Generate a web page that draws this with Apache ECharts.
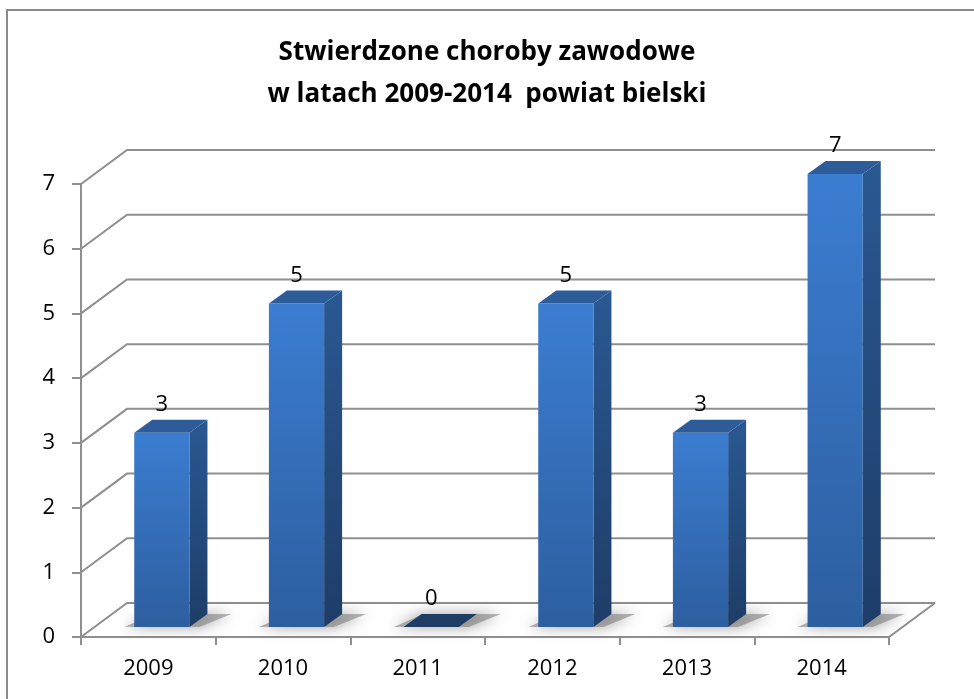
<!DOCTYPE html>
<html>
<head>
<meta charset="utf-8">
<script src="https://cdn.jsdelivr.net/npm/echarts@6/dist/echarts.min.js"></script>
<style>
html,body{margin:0;padding:0;background:#fff;}
#chart{width:974px;height:699px;}
</style>
</head>
<body>
<div id="chart"></div>
<script>
const titleLines = ['Stwierdzone choroby zawodowe', 'w latach 2009-2014  powiat bielski'];
const categories = ['2009', '2010', '2011', '2012', '2013', '2014'];
const values = [3, 5, 0, 5, 3, 7];
const yTicks = [0, 1, 2, 3, 4, 5, 6, 7];

const FONT = '"Open Sans", Lato, sans-serif';
const GRAY = '#8f8f8f';
const WALL_DX = 46, WALL_DY = -34;   // depth of the floor / back wall
const BAR_OX = 13.5, BAR_OY = -10;   // bar front face offset into depth
const BAR_DX = 18, BAR_DY = -13;     // bar depth
const BAR_W = 0.41;                  // front face width as share of category

const chart = echarts.init(document.getElementById('chart'), null, {renderer: 'canvas'});

function renderGrid(params, api) {
  const cs = params.coordSys;
  const v = api.value(1);
  const y = api.coord([0, v])[1];
  const children = [{
    type: 'polyline',
    shape: {points: [[cs.x, y], [cs.x + WALL_DX, y + WALL_DY], [cs.x + cs.width + WALL_DX, y + WALL_DY]]},
    style: {stroke: GRAY, lineWidth: 2, fill: null}
  }];
  if (v === 0) {
    children.push({
      type: 'line',
      shape: {x1: cs.x + cs.width, y1: y, x2: cs.x + cs.width + WALL_DX, y2: y + WALL_DY},
      style: {stroke: GRAY, lineWidth: 2}
    });
  }
  return {type: 'group', children: children};
}

function renderBar(params, api) {
  const i = api.value(0);
  const v = api.value(1);
  const p0 = api.coord([i, 0]);
  const p1 = api.coord([i, v]);
  const cw = api.size([1, 0])[0];
  const fw = cw * BAR_W;
  const cx = p0[0] + BAR_OX;
  const xl = cx - fw / 2, xr = cx + fw / 2;
  const yb = p0[1] + BAR_OY, yt = p1[1] + BAR_OY;
  const children = [];
  // soft floor shadow
  children.push({
    type: 'polygon',
    shape: {points: [[xl - 10, yb], [xr + 10, yb], [xr + BAR_DX + 24, yb + BAR_DY], [xl + BAR_DX + 2, yb + BAR_DY]]},
    style: {fill: 'rgba(120,120,120,0.55)', shadowBlur: 14, shadowColor: 'rgba(0,0,0,0.7)'}
  });
  if (v > 0) {
    children.push({
      type: 'polygon',
      shape: {points: [[xr, yt], [xr + BAR_DX, yt + BAR_DY], [xr + BAR_DX, yb + BAR_DY], [xr, yb]]},
      style: {fill: new echarts.graphic.LinearGradient(0, 0, 0, 1, [
        {offset: 0, color: '#2a5892'}, {offset: 1, color: '#1e3d68'}])}
    });
    children.push({
      type: 'rect',
      shape: {x: xl, y: yt, width: fw, height: yb - yt},
      style: {fill: new echarts.graphic.LinearGradient(0, 0, 0, 1, [
        {offset: 0, color: '#3b7dd1'}, {offset: 1, color: '#2d5e9f'}])}
    });
    children.push({
      type: 'polygon',
      shape: {points: [[xl, yt], [xr, yt], [xr + BAR_DX, yt + BAR_DY], [xl + BAR_DX, yt + BAR_DY]]},
      style: {fill: '#2d5c99'}
    });
  } else {
    children.push({
      type: 'polygon',
      shape: {points: [[xl, yt], [xr, yt], [xr + BAR_DX, yt + BAR_DY], [xl + BAR_DX, yt + BAR_DY]]},
      style: {fill: '#1f3c65'}
    });
  }
  children.push({
    type: 'text',
    style: {
      text: String(v), x: cx, y: yt + BAR_DY - 15,
      align: 'center', verticalAlign: 'middle',
      font: '22px ' + FONT, fill: '#000'
    }
  });
  return {type: 'group', children: children};
}

chart.setOption({
  animation: false,
  backgroundColor: '#fff',
  title: {
    text: titleLines.join('\n'),
    left: 'center',
    top: 27,
    textStyle: {fontFamily: FONT, fontSize: 26, fontWeight: 'bold', color: '#000', lineHeight: 42}
  },
  graphic: [{
    type: 'rect', silent: true, z: 100,
    shape: {x: 7, y: 10, width: 1100, height: 1100},
    style: {fill: null, stroke: '#8a8a8a', lineWidth: 2}
  }],
  grid: {left: 81, right: 85, top: 184, bottom: 62},
  xAxis: {
    type: 'category',
    data: categories,
    axisLine: {lineStyle: {color: GRAY, width: 2}},
    axisTick: {show: true, length: 8, lineStyle: {color: GRAY, width: 2}},
    axisLabel: {fontFamily: FONT, fontSize: 22, color: '#000', margin: 21},
    splitLine: {show: false}
  },
  yAxis: {
    type: 'value',
    min: 0, max: 7, interval: 1,
    axisLine: {show: true, lineStyle: {color: GRAY, width: 2}},
    axisTick: {show: true, length: 9, lineStyle: {color: GRAY, width: 2}},
    axisLabel: {fontFamily: FONT, fontSize: 22, color: '#000', margin: 26},
    splitLine: {show: false}
  },
  series: [{
    type: 'custom',
    name: 'grid',
    silent: true,
    z: 1,
    renderItem: renderGrid,
    encode: {x: 0, y: 1},
    data: yTicks.map(v => [0, v])
  }, {
    type: 'custom',
    name: 'bars',
    z: 5,
    renderItem: renderBar,
    encode: {x: 0, y: 1},
    data: values.map((v, i) => [i, v])
  }]
});
</script>
</body>
</html>
